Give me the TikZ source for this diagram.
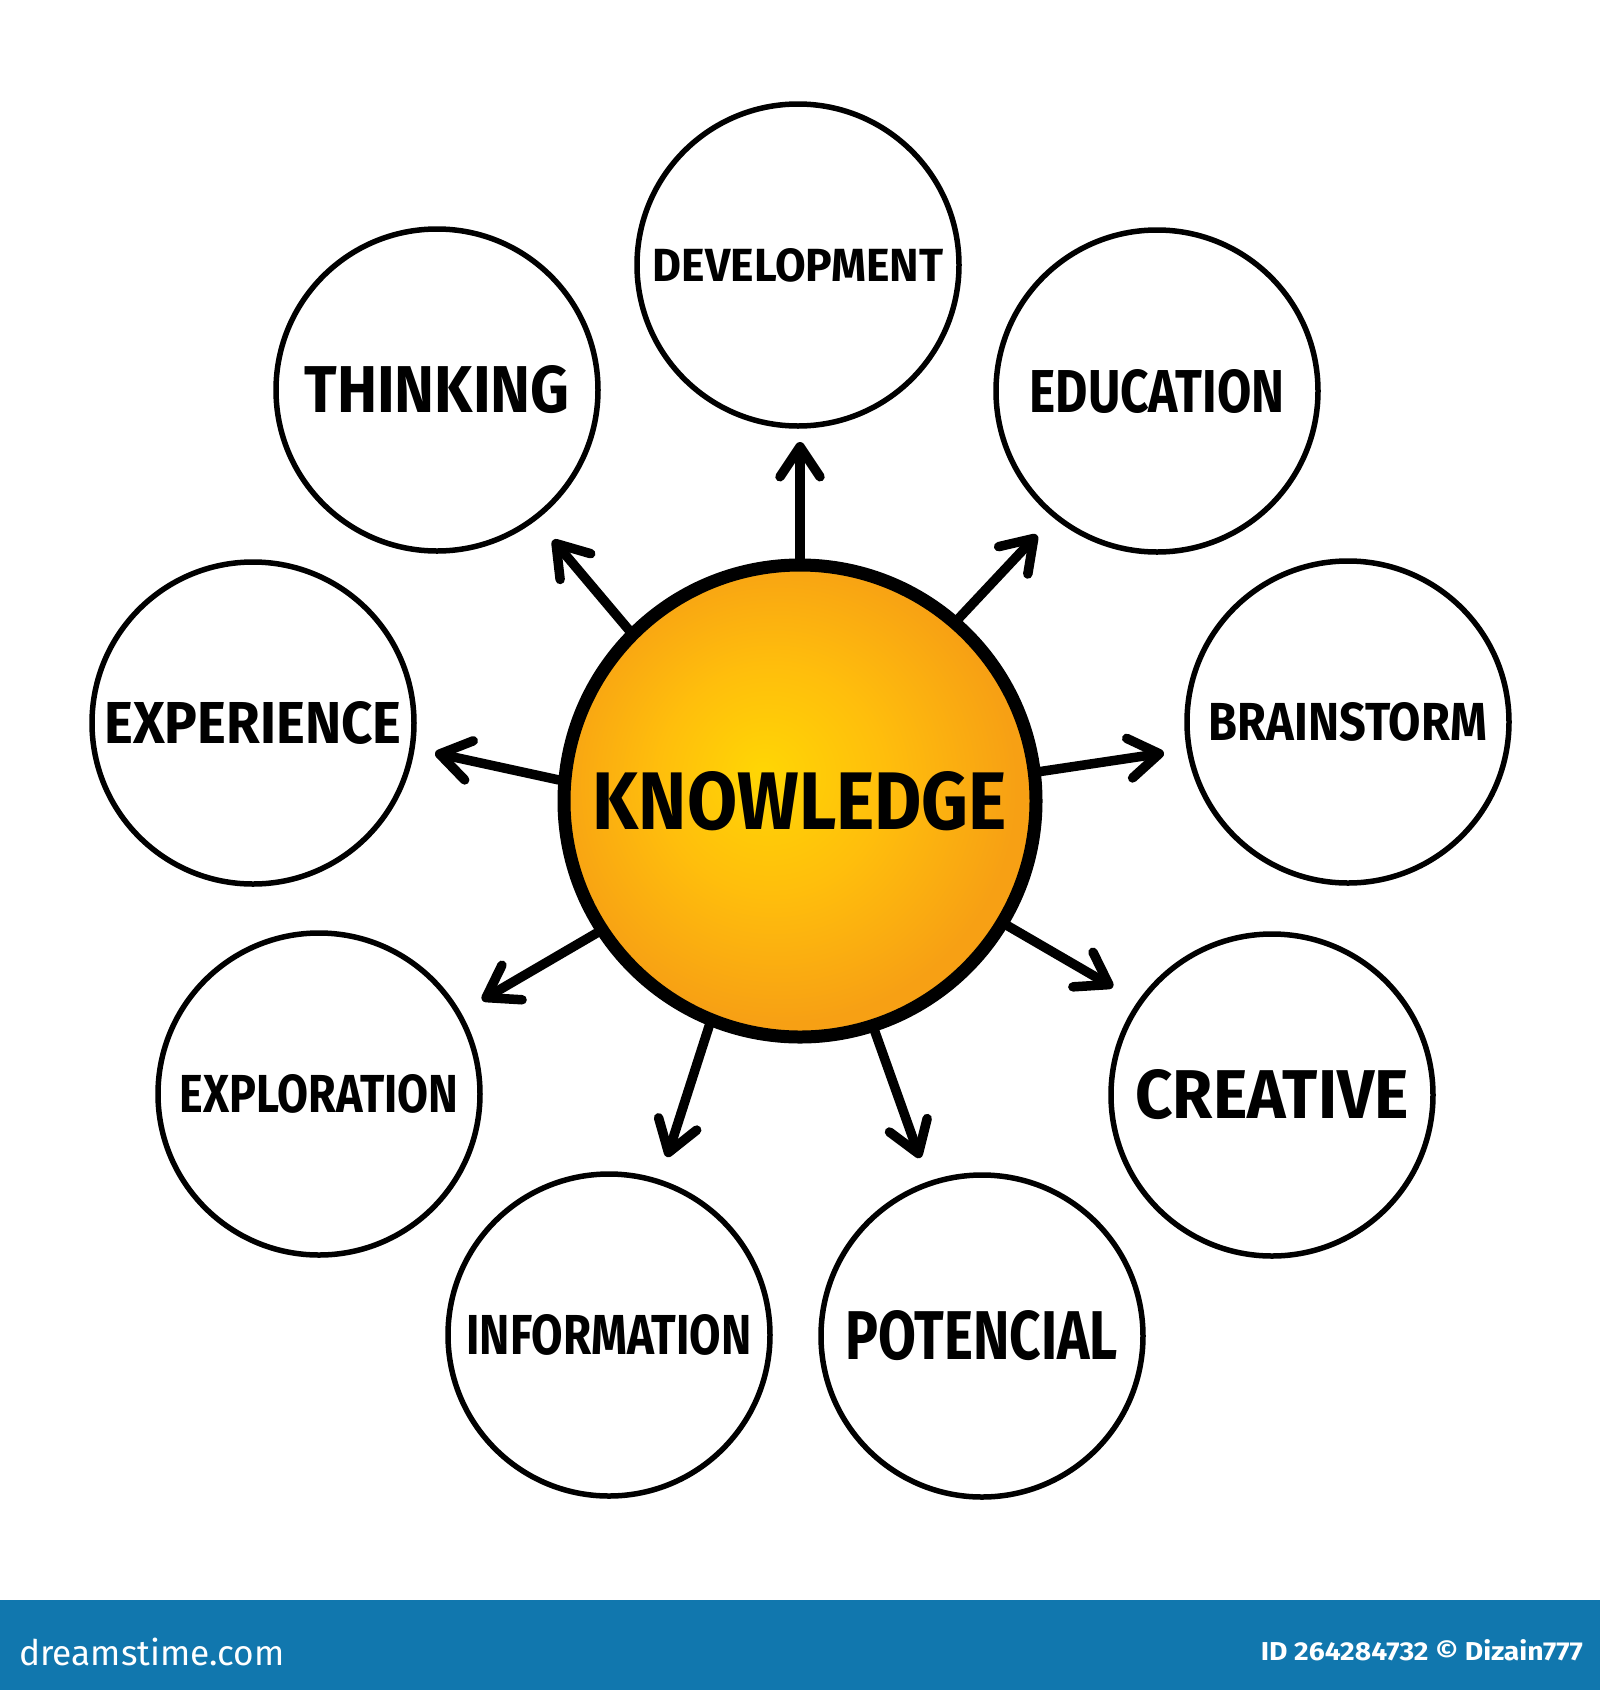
\documentclass[tikz,border=0pt]{standalone}
\usepackage{fontspec}
\setmainfont{Fira Sans}
\usetikzlibrary{arrows.meta}
\definecolor{kin}{RGB}{255,214,4}
\definecolor{kmid}{RGB}{255,190,12}
\definecolor{kout}{RGB}{247,160,20}
\definecolor{barblue}{RGB}{17,119,174}
\pgfdeclareradialshading{kshade}{\pgfpoint{-4bp}{3bp}}{color(0bp)=(kin); color(12bp)=(kmid); color(25bp)=(kout); color(50bp)=(kout)}
\newcommand{\lbl}[3]{\resizebox{#1pt}{#2pt}{\bfseries #3}}
\begin{document}
\begin{tikzpicture}[x=1pt,y=-1pt,
  leaf/.style={circle, draw=black, line width=5.5pt, minimum size=322pt, inner sep=0pt, fill=white},
  core/.style={circle, draw=black, line width=13pt, minimum size=472pt, inner sep=0pt, shading=kshade},
  ray/.style={line width=9.5pt, line cap=round, -{Straight Barb[length=30pt,width=40pt,round]}},
  bartext/.style={text=white, inner sep=0pt}
]
\fill[white] (0,0) rectangle (1600,1690);
\path[use as bounding box] (0,0) rectangle (1600,1690);

\node[core] (k) at (800,801) {\lbl{414}{58}{KNOWLEDGE}};
\node[leaf] (dev) at (798,265) {\lbl{290}{33}{DEVELOPMENT}};
\node[leaf] (thi) at (437,390) {\lbl{265}{47}{THINKING}};
\node[leaf] (edu) at (1157,391) {\lbl{255}{43}{EDUCATION}};
\node[leaf] (exp) at (253,723) {\lbl{297}{42}{EXPERIENCE}};
\node[leaf] (bra) at (1348,722) {\lbl{278}{38}{BRAINSTORM}};
\node[leaf] (xpl) at (319,1094) {\lbl{279}{38}{EXPLORATION}};
\node[leaf] (cre) at (1272,1095) {\lbl{273}{49}{CREATIVE}};
\node[leaf] (inf) at (609,1335) {\lbl{285}{40}{INFORMATION}};
\node[leaf] (pot) at (982,1336) {\lbl{272}{49}{POTENCIAL}};

\coordinate (tdev) at (800,442);
\coordinate (tedu) at (1037,535);
\coordinate (tthi) at (553,540);
\coordinate (texp) at (435,753);
\coordinate (tbra) at (1164,753);
\coordinate (tcre) at (1113,987);
\coordinate (txpl) at (482,1000);
\coordinate (tinf) at (667,1157);
\coordinate (tpot) at (920,1158);

\draw[ray] (k.90) -- (tdev);
\draw[ray] (k.49) -- (tedu);
\draw[ray] (k.135) -- (tthi);
\draw[ray] (k.175) -- (texp);
\draw[ray] (k.7) -- (tbra);
\draw[ray] (k.-31) -- (tcre);
\draw[ray] (k.213.6) -- (txpl);
\draw[ray] (k.248.7) -- (tinf);
\draw[ray] (k.288.5) -- (tpot);

\fill[barblue] (0,1600) rectangle (1600,1690);
\node[bartext, anchor=west] (ds) at (19,1652) {\resizebox{265pt}{!}{dreamstime.com}};
\node[bartext, anchor=east] (id) at (1583,1650) {\resizebox{322pt}{21pt}{\bfseries ID 264284732 © Dizain777}};
\end{tikzpicture}
\end{document}
